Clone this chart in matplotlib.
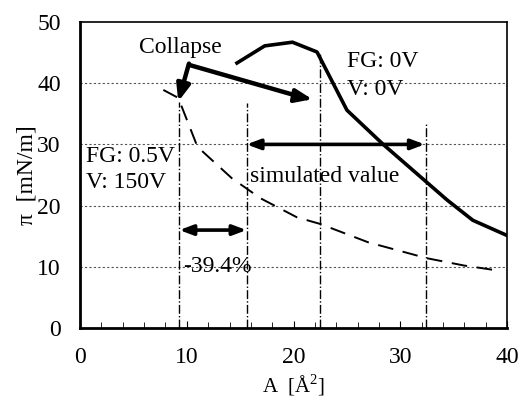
import matplotlib
matplotlib.use("Agg")
import matplotlib.pyplot as plt
from matplotlib.ticker import MultipleLocator

plt.rcParams['font.family'] = ['Liberation Serif', 'DejaVu Serif']
plt.rcParams['mathtext.fontset'] = 'custom'
plt.rcParams['mathtext.rm'] = 'Liberation Serif'

# FG: 0V, V: 0V (solid)
solid_x = [14.7, 17.3, 19.9, 22.2, 25.0, 28.4, 34.4, 36.8, 39.9]
solid_y = [43.3, 46.1, 46.7, 45.1, 35.6, 30.0, 20.9, 17.6, 15.2]

# FG: 0.5V, V: 150V (dashed)
dash_x = [7.8, 9.2, 11.0, 14.2, 16.9, 20.3, 22.5, 27.0, 32.5, 36.0, 39.5]
dash_y = [38.9, 37.6, 29.6, 24.5, 21.2, 18.1, 17.0, 14.0, 11.4, 10.2, 9.3]

# vertical reference lines (x, top y)
vline_x = [9.3, 15.6, 22.5, 32.4]
vline_top = [37.0, 36.8, 45.0, 33.5]

xticks = [0, 10, 20, 30, 40]
yticks = [0, 10, 20, 30, 40, 50]

fig = plt.figure(figsize=(5.2, 4.0), dpi=100)
ax = fig.add_axes([0.154, 0.18, 0.821, 0.765])

ax.set_xlim(0, 40)
ax.set_ylim(0, 50)

for yv in [10, 20, 30, 40]:
    ax.axhline(yv, color='#555555', lw=0.8, ls=(0, (2, 2)), zorder=1)

for xv, top in zip(vline_x, vline_top):
    ax.plot([xv, xv], [0, top], color='black', lw=1.0, ls='-.', zorder=2)

ax.plot(solid_x, solid_y, color='black', lw=2.6, zorder=3)
ax.plot(dash_x, dash_y, color='black', lw=1.4, ls=(0, (8, 5)), zorder=3)

# Collapse arrows
ax.plot([10.2, 20.8], [43.0, 37.7], color='black', lw=3.2, solid_capstyle='butt', zorder=4)
ax.annotate('', xy=(22.0, 37.3), xytext=(20.8, 37.7),
            arrowprops=dict(arrowstyle='-|>,head_length=1.0,head_width=0.4', color='black', lw=3))
ax.annotate('', xy=(9.2, 37.0), xytext=(10.2, 43.2),
            arrowprops=dict(arrowstyle='-|>,head_length=1.0,head_width=0.4', color='black', lw=3.2,
                            shrinkA=0, shrinkB=0))

# double arrows
ax.annotate('', xy=(15.6, 30.0), xytext=(32.3, 30.0),
            arrowprops=dict(arrowstyle='<|-|>,head_length=0.8,head_width=0.3', color='black', lw=2.6,
                            shrinkA=0, shrinkB=0))
ax.annotate('', xy=(9.3, 16.0), xytext=(15.6, 16.0),
            arrowprops=dict(arrowstyle='<|-|>,head_length=0.8,head_width=0.3', color='black', lw=2.6,
                            shrinkA=0, shrinkB=0))

fs = 17
ax.text(9.4, 45.8, 'Collapse', fontsize=fs, ha='center', va='center')
ax.text(25.0, 43.6, 'FG: 0V', fontsize=fs, ha='left', va='center')
ax.text(25.0, 38.9, 'V: 0V', fontsize=fs, ha='left', va='center')
ax.text(0.6, 28.0, 'FG: 0.5V', fontsize=fs, ha='left', va='center')
ax.text(0.6, 23.7, 'V: 150V', fontsize=fs, ha='left', va='center')
ax.text(15.9, 24.7, 'simulated value', fontsize=fs, ha='left', va='center')
ax.text(9.7, 10.0, '-39.4%', fontsize=fs, ha='left', va='center')

ax.set_xticks(xticks)
ax.set_yticks(yticks)
ax.xaxis.set_minor_locator(MultipleLocator(2))
ax.tick_params(axis='x', which='major', direction='in', length=5, pad=14, labelsize=fs)
ax.tick_params(axis='x', which='minor', direction='in', length=4)
ax.tick_params(axis='y', which='major', direction='in', length=0, pad=14, labelsize=fs)

for side in ['left', 'bottom']:
    ax.spines[side].set_linewidth(2.0)
for side in ['top', 'right']:
    ax.spines[side].set_linewidth(1.2)

fig.text(0.5645, 0.004, 'A  [Å$^2$]', fontsize=15, ha='center', va='bottom')
ax.set_ylabel('π  [mN/m]', fontsize=fs, labelpad=0)

fig.savefig('out.png', dpi=100)
